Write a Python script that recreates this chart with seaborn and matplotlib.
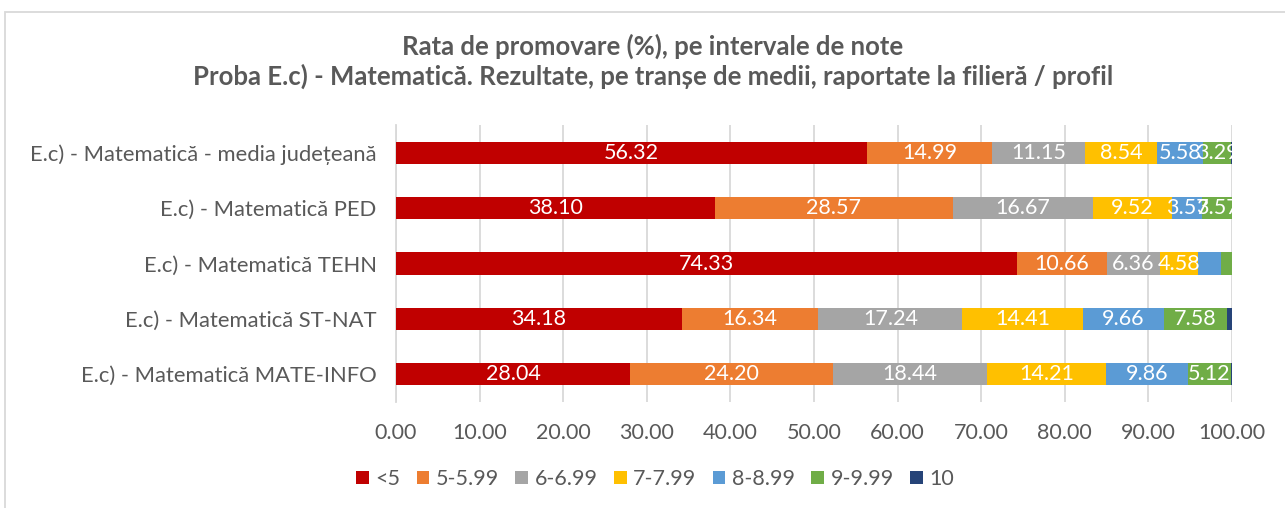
import matplotlib
matplotlib.use("Agg")
import matplotlib.pyplot as plt
import numpy as np
import pandas as pd
import seaborn as sns
from matplotlib.patches import Rectangle, Patch

# categories top -> bottom
categories = [
    "E.c) - Matematică - media județeană",
    "E.c) - Matematică PED",
    "E.c) - Matematică TEHN",
    "E.c) - Matematică ST-NAT",
    "E.c) - Matematică MATE-INFO",
]
series_names = ["<5", "5-5.99", "6-6.99", "7-7.99", "8-8.99", "9-9.99", "10"]

sub5 = [56.32, 38.10, 74.33, 34.18, 28.04]
s5_599 = [14.99, 28.57, 10.66, 16.34, 24.20]
s6_699 = [11.15, 16.67, 6.36, 17.24, 18.44]
s7_799 = [8.54, 9.52, 4.58, 14.41, 14.21]
s8_899 = [5.58, 3.57, 2.80, 9.66, 9.86]
s9_999 = [3.29, 3.57, 1.27, 7.58, 5.12]
s10 = [0.13, 0.00, 0.00, 0.59, 0.13]

x_ticks = [0, 10, 20, 30, 40, 50, 60, 70, 80, 90, 100]

colors = ["#C00000", "#ED7D31", "#A5A5A5", "#FFC000", "#5B9BD5", "#70AD47", "#264478"]
TEXT = "#595959"
GRID = "#D9D9D9"
FS = 15.5

sns.set_theme(style="white")
plt.rcParams["font.family"] = ["Lato", "DejaVu Sans"]

values = np.array([sub5, s5_599, s6_699, s7_799, s8_899, s9_999, s10])
cum = values.cumsum(axis=0)

fig = plt.figure(figsize=(12.85, 5.08), dpi=100)
ax = fig.add_axes([396 / 1285, 1 - 402 / 508, (1232 - 396) / 1285, (402 - 125) / 508])

# stacked bars: draw cumulative totals from last series back to first
for i in range(len(series_names) - 1, -1, -1):
    df = pd.DataFrame({"cat": categories, "val": cum[i]})
    sns.barplot(data=df, x="val", y="cat", orient="h", color=colors[i],
                width=0.4, linewidth=0, saturation=1, ax=ax, zorder=3)

# segment labels (small segments left unlabeled, as in the source chart)
for i in range(len(series_names)):
    for j in range(len(categories)):
        v = values[i, j]
        if v < 3:
            continue
        left = cum[i, j] - v
        t = ax.text(left + v / 2, j, f"{v:.2f}", ha="center", va="center",
                    color="white", fontsize=FS, zorder=5)
        t.set_clip_on(True)

ax.set_xlim(0, 100)
ax.set_ylim(4.5, -0.5)
ax.set_xticks(x_ticks)
ax.set_xticklabels([f"{t:.2f}" for t in x_ticks])
ax.xaxis.grid(True, color=GRID, linewidth=1.3, zorder=0)
ax.set_axisbelow(True)
ax.tick_params(axis="x", colors=TEXT, labelsize=FS, length=0, pad=15)
ax.tick_params(axis="y", colors=TEXT, labelsize=15.8, length=0, pad=14)
for lab in ax.get_yticklabels():
    lab.set_color(TEXT)
ax.set_xlabel("")
ax.set_ylabel("")
for side in ["top", "right", "bottom"]:
    ax.spines[side].set_visible(False)
ax.spines["left"].set_color(GRID)
ax.spines["left"].set_linewidth(1.3)

fig.text(0.508, 1 - 46 / 508, "Rata de promovare (%), pe intervale de note",
         ha="center", va="center", fontsize=18.5, fontweight="bold", color=TEXT)
fig.text(0.508, 1 - 76 / 508,
         "Proba E.c) - Matematică. Rezultate, pe tranșe de medii, raportate la filieră / profil",
         ha="center", va="center", fontsize=18.5, fontweight="bold", color=TEXT)

handles = [Patch(facecolor=c, edgecolor="none") for c in colors]
fig.legend(handles, series_names, loc="center", bbox_to_anchor=(655 / 1285, 1 - 479 / 508),
           ncol=7, frameon=False, fontsize=FS, handlelength=0.6, handleheight=0.6,
           handletextpad=0.3, columnspacing=0.75, labelcolor=TEXT)

# chart border
fig.add_artist(Rectangle((5 / 1285, -0.1), 1.1, 1 - 12 / 508 + 0.1, transform=fig.transFigure,
                         fill=False, edgecolor=GRID, linewidth=1.3))

fig.savefig("out.png", dpi=100)
